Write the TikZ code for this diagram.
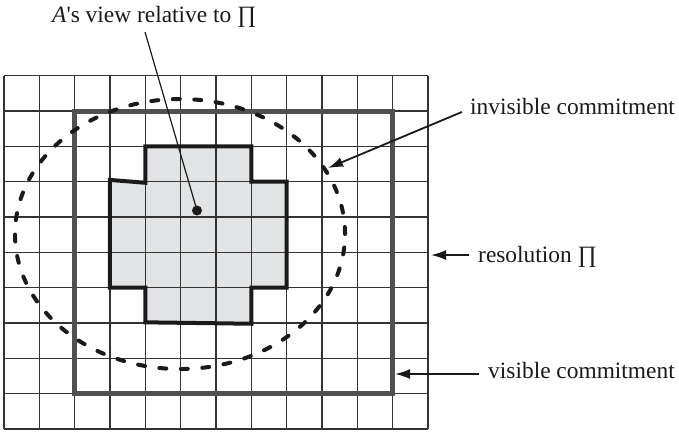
\documentclass[tikz,border=0pt]{standalone}
\usepackage{fontspec}
\setmainfont{Liberation Serif}
\usetikzlibrary{arrows.meta}
\definecolor{crossfill}{HTML}{E2E3E5}
\definecolor{gridcol}{HTML}{333333}
\definecolor{viscol}{HTML}{505050}
\definecolor{inkcol}{HTML}{1A1A1A}
\tikzset{
  gridline/.style={draw=gridcol, line width=1.2pt},
  crossline/.style={draw=inkcol, line width=4pt, line join=miter},
  visline/.style={draw=viscol, line width=5pt, line join=miter},
  invline/.style={draw=inkcol, line width=4pt, line cap=round, dash pattern=on 7pt off 14.5pt},
  pointer/.style={draw=inkcol, line width=1.2pt},
  callout/.style={draw=inkcol, line width=1.8pt, -{Latex[length=15pt,width=10pt]}},
  lbl/.style={inner sep=0pt, anchor=base west, font=\fontsize{23.4}{28}\selectfont, text=inkcol}
}
\begin{document}
\begin{tikzpicture}[x=35.33pt, y=-35.33pt]
\useasboundingbox (-0.1132,-2.1427) rectangle (19.105,10.057);
% shaded cross
\fill[crossfill] (4,2) -- (7,2) -- (7,3) -- (8,3) -- (8,6) -- (7,6) -- (7,7.02) -- (4,6.98) -- (4,6) -- (3,6) -- (3,2.95) -- (4,3.03) -- cycle;
% grid
\foreach \i in {0,...,12} \draw[gridline] (\i,0) -- (\i,10);
\foreach \j in {0,...,10} \draw[gridline] (0,\j) -- (12,\j);
% cross outline
\draw[crossline] (4,2) -- (7,2) -- (7,3) -- (8,3) -- (8,6) -- (7,6) -- (7,7.02) -- (4,6.98) -- (4,6) -- (3,6) -- (3,2.95) -- (4,3.03) -- cycle;
% visible commitment square
\draw[visline] (2,1) rectangle (11,9);
% invisible commitment ellipse
\draw[invline] (4.982,4.481) ellipse [x radius=165pt, y radius=135pt];
% A's view
\node[circle, fill=inkcol, inner sep=0pt, minimum size=10pt] (dot) at (5.463,3.815) {};
\node[lbl] (viewlbl) at (1.359,-1.492) {\textit{A}\textquotesingle s view relative to ∏};
\coordinate (viewfrom) at (3.991,-1.237);
\draw[pointer] (viewfrom) -- (dot.center);
% labels and callouts
\node[lbl] (invlbl) at (13.19,1.112) {invisible commitment};
\node[lbl] (reslbl) at (13.416,5.287) {resolution ∏};
\node[lbl] (vislbl) at (13.70,8.556) {visible commitment};
\coordinate (invfrom) at (12.96,1.027);
\coordinate (invto) at (9.171,2.613);
\coordinate (resfrom) at (13.16,5.075);
\coordinate (resto) at (12.086,5.075);
\coordinate (visfrom) at (13.445,8.443);
\coordinate (visto) at (11.067,8.443);
\draw[callout] (invfrom) -- (invto);
\draw[callout] (resfrom) -- (resto);
\draw[callout] (visfrom) -- (visto);
\end{tikzpicture}
\end{document}
